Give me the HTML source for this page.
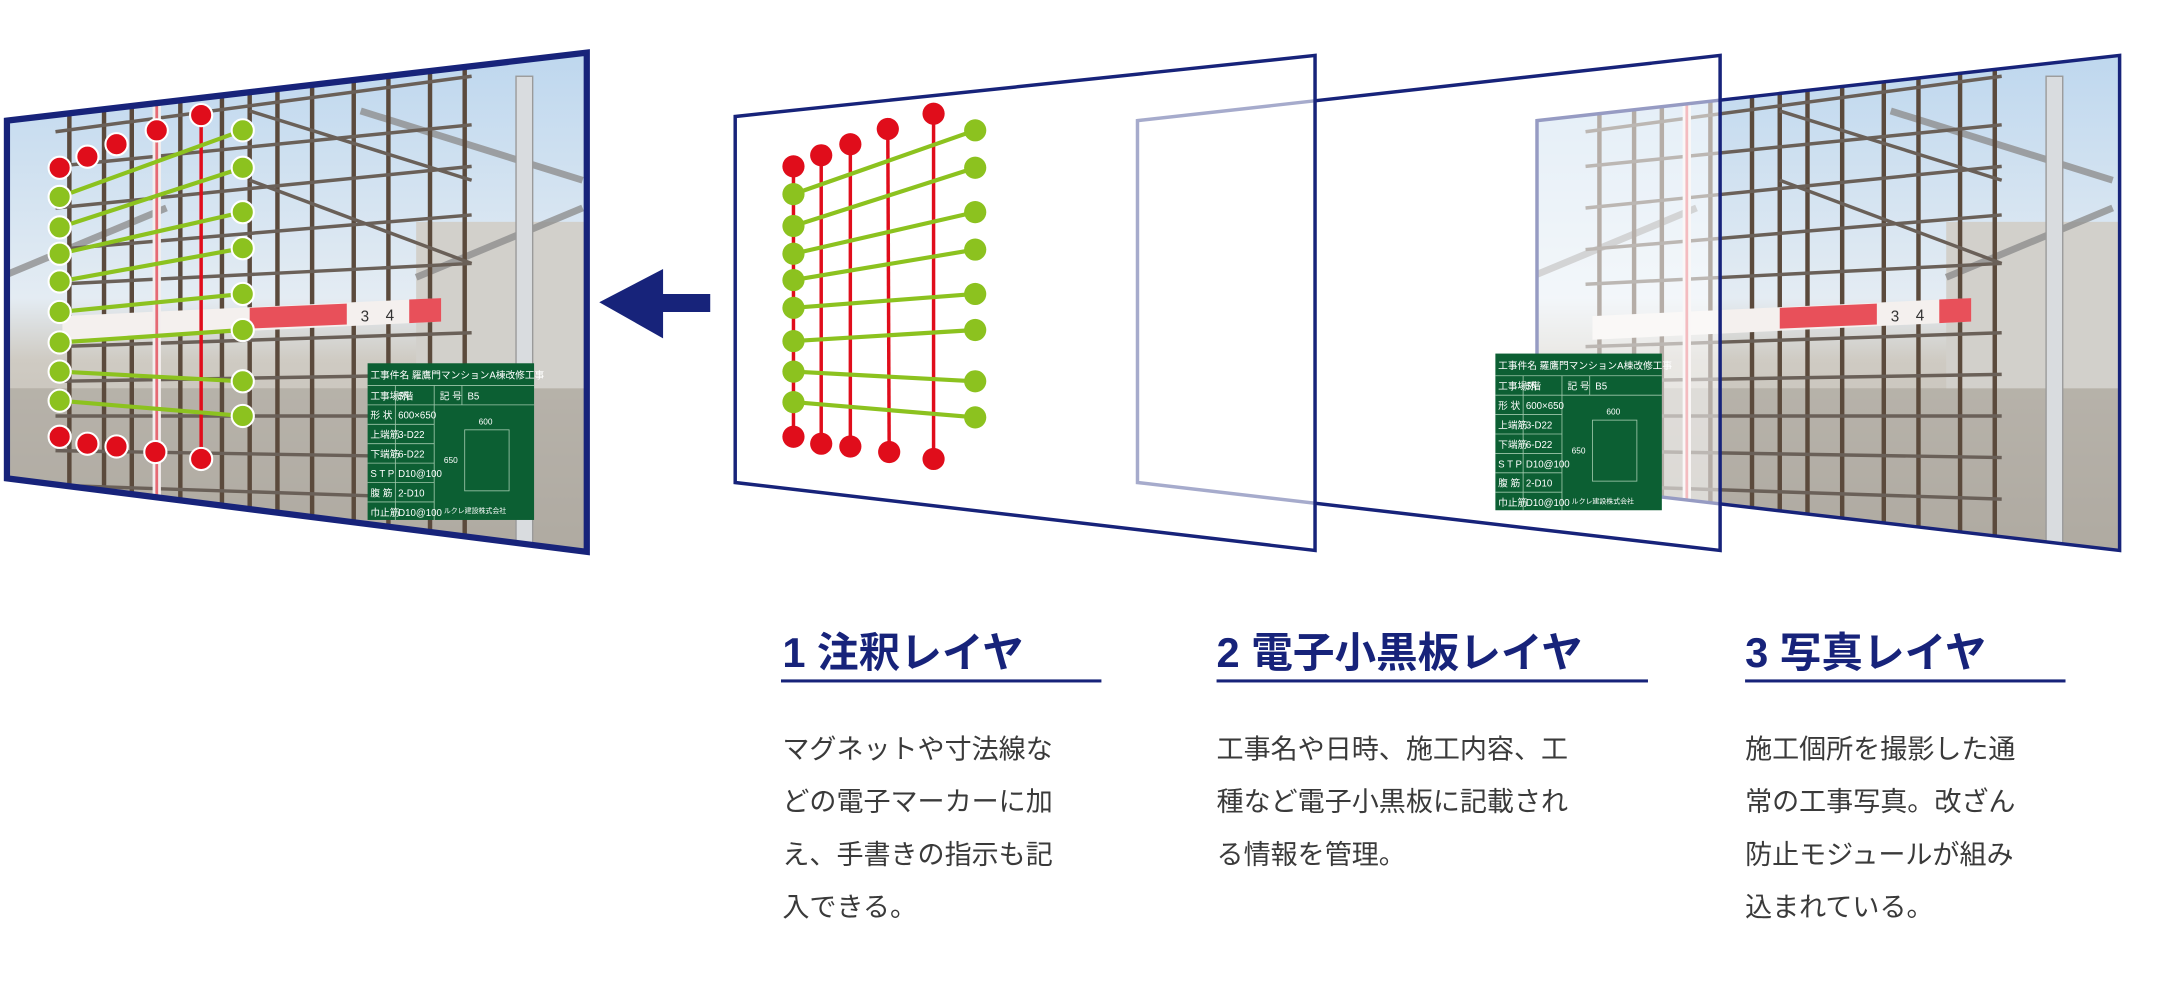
<!DOCTYPE html>
<html><head><meta charset="utf-8"><style>
html,body{margin:0;padding:0;background:#fff;width:2164px;height:990px;overflow:hidden}
svg{display:block}
text{font-family:"Liberation Sans","Noto Sans CJK JP",sans-serif}
</style></head><body>
<svg width="2164" height="990" viewBox="0 0 1560 714" preserveAspectRatio="none" xmlns="http://www.w3.org/2000/svg">
<defs>
<linearGradient id="sky" x1="0" y1="0" x2="0" y2="1">
<stop offset="0" stop-color="#bcd6ee"/><stop offset="0.5" stop-color="#e4ecf3"/><stop offset="0.62" stop-color="#cfcbc3"/><stop offset="1" stop-color="#b9b4aa"/>
</linearGradient>
<clipPath id="c1"><polygon points="5,87 423,38 423,398 5,345"/></clipPath>
<clipPath id="c4"><polygon points="1108,87 1528,40 1528,397 1108,348"/></clipPath>
<g id="photo">
<rect x="0" y="30" width="425" height="370" fill="url(#sky)"/>
<rect x="0" y="280" width="425" height="120" fill="#a9a49b" opacity="0.6"/>
<rect x="300" y="160" width="125" height="120" fill="#d2d0cb"/>
<g stroke="#8f8f8f" stroke-width="5" opacity="0.8">
<line x1="0" y1="200" x2="120" y2="150"/><line x1="260" y1="80" x2="420" y2="130"/><line x1="300" y1="200" x2="420" y2="150"/>
</g>
<rect x="372" y="55" width="12" height="345" fill="#d9dcdf" stroke="#9a9a9a" stroke-width="1"/>
<g stroke="#5b4a3c" stroke-width="3.2">
<line x1="50" y1="70" x2="50" y2="400"/><line x1="75" y1="65" x2="75" y2="400"/><line x1="95" y1="62" x2="95" y2="400"/>
<line x1="130" y1="58" x2="130" y2="400"/><line x1="160" y1="55" x2="160" y2="400"/><line x1="180" y1="52" x2="180" y2="400"/>
<line x1="200" y1="50" x2="200" y2="400"/><line x1="225" y1="48" x2="225" y2="400"/><line x1="255" y1="48" x2="255" y2="400"/>
<line x1="280" y1="46" x2="280" y2="400"/><line x1="310" y1="46" x2="310" y2="400"/><line x1="335" y1="50" x2="335" y2="400"/>
</g>
<g stroke="#6a6058" stroke-width="2.5">
<line x1="40" y1="95" x2="340" y2="55"/><line x1="40" y1="120" x2="340" y2="90"/><line x1="40" y1="150" x2="340" y2="120"/>
<line x1="40" y1="180" x2="340" y2="155"/><line x1="40" y1="205" x2="340" y2="190"/><line x1="40" y1="250" x2="340" y2="240"/>
<line x1="40" y1="275" x2="340" y2="270"/><line x1="40" y1="300" x2="340" y2="300"/><line x1="40" y1="325" x2="340" y2="330"/>
<line x1="40" y1="350" x2="340" y2="360"/><line x1="180" y1="80" x2="340" y2="130"/><line x1="180" y1="130" x2="340" y2="190"/>
</g>
<polygon points="45,228 318,215 318,232 45,245" fill="#f4f0ee"/>
<polygon points="180,222 250,219 250,234 180,237" fill="#e8505a"/>
<polygon points="295,216 318,215 318,232 295,233" fill="#e8505a"/>
<g font-size="11" fill="#333"><text x="260" y="232">3</text><text x="278" y="231">4</text></g>
<rect x="110" y="70" width="6" height="330" fill="#f3eeee"/>
<rect x="112" y="70" width="2" height="330" fill="#e56a74"/>
</g>
<g id="board">
<rect x="0" y="0" width="120" height="113" fill="#0c5f33"/>
<g stroke="#9fc7ab" stroke-width="0.6" fill="none">
<line x1="0" y1="16" x2="120" y2="16"/><line x1="0" y1="30" x2="120" y2="30"/><line x1="0" y1="44" x2="48" y2="44"/>
<line x1="0" y1="58" x2="48" y2="58"/><line x1="0" y1="72" x2="48" y2="72"/><line x1="0" y1="86" x2="48" y2="86"/><line x1="0" y1="100" x2="48" y2="100"/>
<line x1="20" y1="16" x2="20" y2="113"/><line x1="48" y1="16" x2="48" y2="113"/><line x1="68" y1="16" x2="68" y2="30"/>
<rect x="70" y="48" width="32" height="44"/>
</g>
<g fill="#fff" font-size="7">
<text x="2" y="11">工事件名 羅鷹門マンションA棟改修工事</text>
<text x="2" y="26">工事場所</text><text x="22" y="26">5階</text><text x="52" y="26">記 号</text><text x="72" y="26">B5</text>
<text x="2" y="40">形 状</text><text x="22" y="40">600×650</text>
<text x="2" y="54">上端筋</text><text x="22" y="54">3-D22</text>
<text x="2" y="68">下端筋</text><text x="22" y="68">6-D22</text>
<text x="2" y="82">S T P</text><text x="22" y="82">D10@100</text>
<text x="2" y="96">腹 筋</text><text x="22" y="96">2-D10</text>
<text x="2" y="110">巾止筋</text><text x="22" y="110">D10@100</text>
<text x="80" y="44" font-size="6">600</text><text x="55" y="72" font-size="6">650</text>
<text x="55" y="108" font-size="5">ルクレ建設株式会社</text>
</g>
</g>
<g id="marks">
<g stroke="#e00d1b" stroke-width="3">
<line x1="0" y1="0" x2="0" y2="0"/>
</g>
</g>
</defs>

<!-- Frame 4 (photo layer) -->
<g clip-path="url(#c4)"><use href="#photo" transform="translate(1103,0)"/></g>
<polygon points="1108,87 1528,40 1528,397 1108,348" fill="none" stroke="#17237a" stroke-width="2.5"/>

<!-- Frame 3 (blackboard layer) -->
<polygon points="820,87 1240,40 1240,397 820,348" fill="#fff" fill-opacity="0.55" stroke="#17237a" stroke-width="2.5"/>
<use href="#board" transform="translate(1078,255)"/>

<!-- Frame 2 (annotation layer) -->
<polygon points="530,84 948,40 948,397 530,348" fill="#fff" fill-opacity="0.62" stroke="#17237a" stroke-width="2.5"/>
<g stroke="#e00d1b" stroke-width="2.5">
<line x1="572" y1="120" x2="572" y2="315"/><line x1="592" y1="112" x2="592" y2="320"/><line x1="613" y1="104" x2="613" y2="322"/>
<line x1="640" y1="93" x2="641" y2="326"/><line x1="673" y1="82" x2="673" y2="331"/>
</g>
<g stroke="#8cc21f" stroke-width="3">
<line x1="572" y1="140" x2="703" y2="94"/><line x1="572" y1="163" x2="703" y2="121"/><line x1="572" y1="183" x2="703" y2="153"/>
<line x1="572" y1="202" x2="703" y2="180"/><line x1="572" y1="222" x2="703" y2="212"/><line x1="572" y1="246" x2="703" y2="238"/>
<line x1="572" y1="268" x2="703" y2="275"/><line x1="572" y1="290" x2="703" y2="301"/>
</g>
<g fill="#e00d1b">
<circle cx="572" cy="120" r="8"/><circle cx="592" cy="112" r="8"/><circle cx="613" cy="104" r="8"/><circle cx="640" cy="93" r="8"/><circle cx="673" cy="82" r="8"/>
<circle cx="572" cy="315" r="8"/><circle cx="592" cy="320" r="8"/><circle cx="613" cy="322" r="8"/><circle cx="641" cy="326" r="8"/><circle cx="673" cy="331" r="8"/>
</g>
<g fill="#8cc21f">
<circle cx="572" cy="140" r="8"/><circle cx="572" cy="163" r="8"/><circle cx="572" cy="183" r="8"/><circle cx="572" cy="202" r="8"/>
<circle cx="572" cy="222" r="8"/><circle cx="572" cy="246" r="8"/><circle cx="572" cy="268" r="8"/><circle cx="572" cy="290" r="8"/>
<circle cx="703" cy="94" r="8"/><circle cx="703" cy="121" r="8"/><circle cx="703" cy="153" r="8"/><circle cx="703" cy="180" r="8"/>
<circle cx="703" cy="212" r="8"/><circle cx="703" cy="238" r="8"/><circle cx="703" cy="275" r="8"/><circle cx="703" cy="301" r="8"/>
</g>

<!-- Arrow -->
<polygon points="432,218 478,194 478,212 512,212 512,225 478,225 478,244" fill="#17237a"/>

<!-- Frame 1 (composite) -->
<g clip-path="url(#c1)"><use href="#photo"/></g>
<use href="#board" transform="translate(265,262)"/>
<line x1="145" y1="83" x2="145" y2="331" stroke="#e00d1b" stroke-width="2.5"/>
<g stroke="#8cc21f" stroke-width="3">
<line x1="43" y1="142" x2="175" y2="94"/><line x1="43" y1="164" x2="175" y2="121"/><line x1="43" y1="183" x2="175" y2="153"/>
<line x1="43" y1="203" x2="175" y2="179"/><line x1="43" y1="225" x2="175" y2="212"/><line x1="43" y1="247" x2="175" y2="238"/>
<line x1="43" y1="268" x2="175" y2="275"/><line x1="43" y1="289" x2="175" y2="300"/>
</g>
<g fill="#e00d1b" stroke="#fff" stroke-width="1.5">
<circle cx="43" cy="121" r="8"/><circle cx="63" cy="113" r="8"/><circle cx="84" cy="104" r="8"/><circle cx="113" cy="94" r="8"/><circle cx="145" cy="83" r="8"/>
<circle cx="43" cy="315" r="8"/><circle cx="63" cy="320" r="8"/><circle cx="84" cy="322" r="8"/><circle cx="112" cy="326" r="8"/><circle cx="145" cy="331" r="8"/>
</g>
<g fill="#8cc21f" stroke="#fff" stroke-width="1.5">
<circle cx="43" cy="142" r="8"/><circle cx="43" cy="164" r="8"/><circle cx="43" cy="183" r="8"/><circle cx="43" cy="203" r="8"/>
<circle cx="43" cy="225" r="8"/><circle cx="43" cy="247" r="8"/><circle cx="43" cy="268" r="8"/><circle cx="43" cy="289" r="8"/>
<circle cx="175" cy="94" r="8"/><circle cx="175" cy="121" r="8"/><circle cx="175" cy="153" r="8"/><circle cx="175" cy="179" r="8"/>
<circle cx="175" cy="212" r="8"/><circle cx="175" cy="238" r="8"/><circle cx="175" cy="275" r="8"/><circle cx="175" cy="300" r="8"/>
</g>
<polygon points="5,87 423,38 423,398 5,345" fill="none" stroke="#17237a" stroke-width="4.5"/>

<!-- Text -->
<g font-size="30" font-weight="bold" fill="#17237a">
<text x="564" y="481">1 注釈レイヤ</text>
<text x="877" y="481">2 電子小黒板レイヤ</text>
<text x="1258" y="481">3 写真レイヤ</text>
</g>
<g fill="#17237a">
<rect x="563" y="490" width="231" height="2.2"/>
<rect x="877" y="490" width="311" height="2.2"/>
<rect x="1258" y="490" width="231" height="2.2"/>
</g>
<g font-size="19.5" fill="#3a3a3a">
<text x="564" y="547">マグネットや寸法線な</text>
<text x="564" y="585">どの電子マーカーに加</text>
<text x="564" y="623">え、手書きの指示も記</text>
<text x="564" y="661">入できる。</text>
<text x="877" y="547">工事名や日時、施工内容、工</text>
<text x="877" y="585">種など電子小黒板に記載され</text>
<text x="877" y="623">る情報を管理。</text>
<text x="1258" y="547">施工個所を撮影した通</text>
<text x="1258" y="585">常の工事写真。改ざん</text>
<text x="1258" y="623">防止モジュールが組み</text>
<text x="1258" y="661">込まれている。</text>
</g>
</svg>
</body></html>
